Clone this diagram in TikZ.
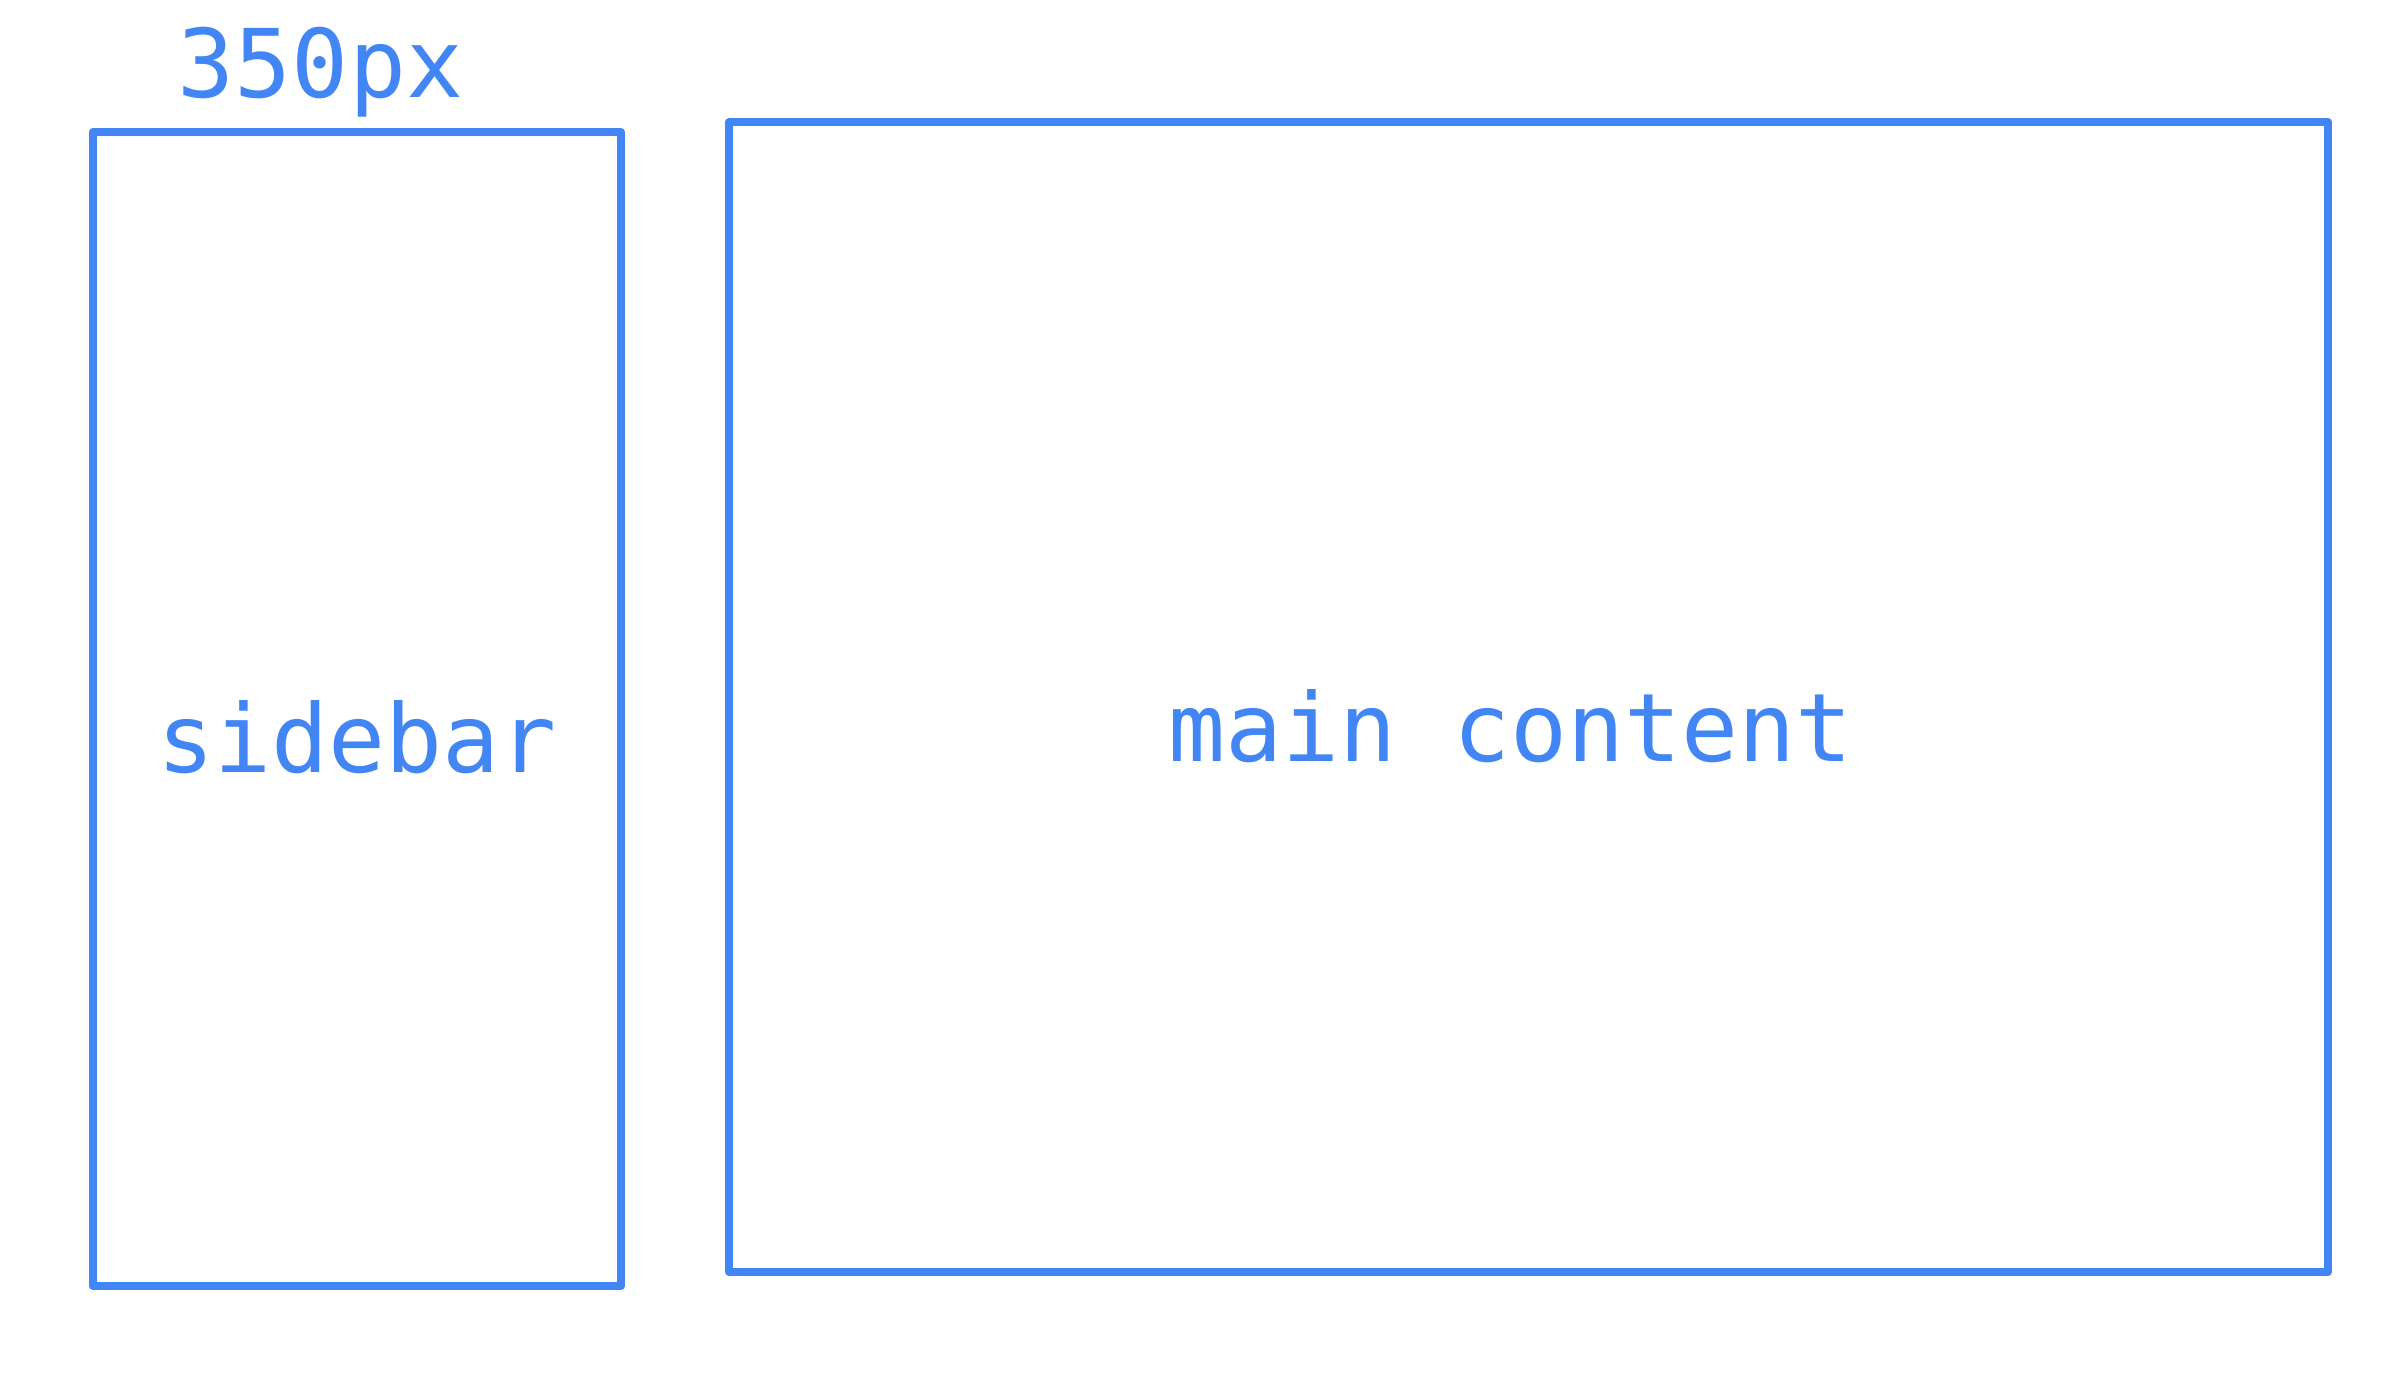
\documentclass[tikz,border=0pt]{standalone}
\usepackage{fontspec}
\setmonofont{DejaVu Sans Mono}
\definecolor{layoutblue}{HTML}{4285F4}

\begin{document}
\begin{tikzpicture}[x=0.25pt,y=-0.25pt]
    \tikzstyle{Box} = [
            draw=layoutblue,
            line width=2pt,
            line join=round,
            rectangle,
            inner sep=0pt,
            text height=32pt,
            text depth=0pt,
            text=layoutblue,
            font={\ttfamily\fontsize{23.7pt}{28pt}\selectfont}
    ];
    \tikzstyle{WidthLabel} = [
            anchor=base,
            inner sep=0pt,
            text=layoutblue,
            font={\ttfamily\fontsize{23.7pt}{28pt}\selectfont}
    ];

    \useasboundingbox (0,0) rectangle (2389,1390);

    \node[Box, name=Sidebar, minimum width=132pt, minimum height=288.5pt] at (357,709) {sidebar};
    \node[Box, name=Main, minimum width=399.75pt, minimum height=287.5pt] at (1528.5,697) {main content\hspace*{9pt}};
    \node[WidthLabel, name=SidebarWidth] at (320.5,98) {350px};
\end{tikzpicture}
\end{document}
